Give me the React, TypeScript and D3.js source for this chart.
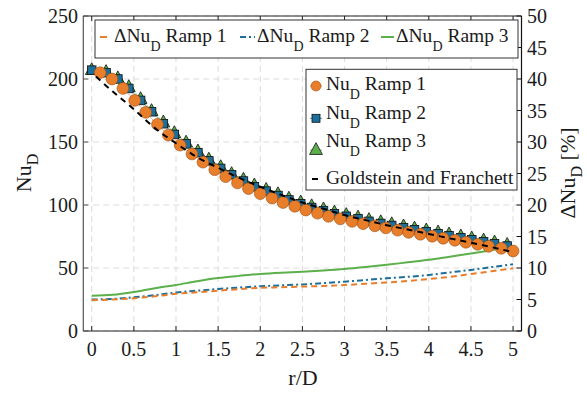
import React from "react";
import * as d3 from "d3";

// ---------- data ----------
const rCircles = [0.1, 0.24, 0.37, 0.51, 0.64, 0.78, 0.91, 1.05, 1.19, 1.32, 1.46, 1.59, 1.73, 1.86, 2.0, 2.14, 2.27, 2.41, 2.54, 2.68, 2.81, 2.95, 3.09, 3.22, 3.36, 3.49, 3.63, 3.76, 3.9, 4.04, 4.17, 4.31, 4.44, 4.58, 4.71, 4.86, 5.0];
const nuRamp1 = [205, 200, 192.5, 183, 173.5, 164, 155.5, 147.5, 140.5, 134, 128, 122.5, 117.5, 113, 109, 105.5, 102, 99, 96, 93.5, 91, 89, 87, 85.2, 83.5, 81.8, 80, 78.3, 76.8, 75.2, 73.6, 72, 70.4, 68.8, 67.2, 65.6, 63.5];

const rOthers = [0, 0.17, 0.31, 0.44, 0.58, 0.71, 0.85, 0.98, 1.12, 1.26, 1.39, 1.53, 1.66, 1.8, 1.93, 2.07, 2.21, 2.34, 2.48, 2.61, 2.75, 2.88, 3.02, 3.16, 3.29, 3.43, 3.56, 3.7, 3.83, 3.97, 4.11, 4.24, 4.38, 4.51, 4.65, 4.78, 4.93];
const nuRamp2 = [207, 205, 200, 192.5, 183, 174, 164.5, 156, 148.5, 141.5, 135, 129, 124, 119, 114.5, 111, 107.5, 104, 101, 98, 95.5, 93, 91, 89, 87, 85.3, 83.7, 82, 80.3, 78.8, 77.2, 75.6, 74, 72.4, 70.8, 69.2, 67.4];
const nuRamp3 = [207.5, 206, 201, 194, 184.5, 175, 166, 157.5, 150, 143, 136.5, 130.5, 125, 120.5, 116, 112.5, 109, 105.5, 102.5, 99.5, 97, 94.5, 92.5, 90.5, 88.5, 86.8, 85.2, 83.5, 81.8, 80.3, 78.7, 77.1, 75.5, 73.9, 72.3, 70.7, 68.8];

const rGold = [0.05, 0.25, 0.5, 0.75, 1.0, 1.25, 1.5, 1.75, 2.0, 2.25, 2.5, 2.75, 3.0, 3.25, 3.5, 3.75, 4.0, 4.25, 4.5, 4.75, 5.0];
const nuGold = [202, 190, 176, 161, 149, 138, 129.5, 121.5, 114.5, 108, 102, 97, 92, 88, 84, 80.5, 77, 73.5, 70, 66.5, 62.5];

const rDelta = [0, 0.25, 0.5, 0.75, 1.0, 1.25, 1.5, 1.75, 2.0, 2.25, 2.5, 2.75, 3.0, 3.25, 3.5, 3.75, 4.0, 4.25, 4.5, 4.75, 5.0];
const dRamp1 = [4.9, 5.0, 5.2, 5.5, 5.9, 6.15, 6.4, 6.65, 6.85, 6.95, 7.05, 7.15, 7.3, 7.5, 7.7, 7.95, 8.25, 8.6, 9.05, 9.5, 9.95];
const dRamp2 = [5.0, 5.1, 5.35, 5.7, 6.1, 6.4, 6.67, 6.9, 7.1, 7.25, 7.4, 7.6, 7.83, 8.1, 8.37, 8.6, 8.9, 9.3, 9.7, 10.15, 10.6];
const dRamp3 = [5.6, 5.75, 6.2, 6.8, 7.3, 7.9, 8.4, 8.75, 9.05, 9.25, 9.4, 9.6, 9.84, 10.15, 10.5, 10.9, 11.3, 11.8, 12.3, 12.85, 13.4];

const xTicks = [0, 0.5, 1, 1.5, 2, 2.5, 3, 3.5, 4, 4.5, 5];
const yLTicks = [0, 50, 100, 150, 200, 250];
const yRTicks = [0, 5, 10, 15, 20, 25, 30, 35, 40, 45, 50];

const C_OR = "#e87d2a";
const C_BL = "#1d6f9b";
const C_GR = "#5bb04c";

const FONT = '"Liberation Serif", "Times New Roman", Times, "DejaVu Serif", serif';

export default function App() {
  const W = 587, H = 393;
  const L = 83.3, R = 521.5, T = 16, B = 331;
  const x = d3.scaleLinear().domain([-0.1, 5.1]).range([L, R]);
  const yL = d3.scaleLinear().domain([0, 250]).range([B, T]);
  const yR = d3.scaleLinear().domain([0, 50]).range([B, T]);

  const lineL = d3.line<[number, number]>().x(d => x(d[0])).y(d => yL(d[1])).curve(d3.curveMonotoneX);
  const lineR = d3.line<[number, number]>().x(d => x(d[0])).y(d => yR(d[1])).curve(d3.curveMonotoneX);

  const zip = (a: number[], b: number[]) => a.map((v, i) => [v, b[i]] as [number, number]);

  const tri = (cx: number, cy: number, s: number) =>
    `M${cx},${cy - s * 0.62}L${cx + s * 0.58},${cy + s * 0.45}L${cx - s * 0.58},${cy + s * 0.45}Z`;

  const tick = 5;
  const txt = "#1a1a1a";
  const ts: React.CSSProperties = { fontFamily: FONT, whiteSpace: "pre" };

  return (
    <svg width={W} height={H} style={{ position: "absolute", left: 0, top: 0, background: "#fff", fontFamily: FONT }}>
      <rect x={0} y={0} width={W} height={H} fill="#fff" />
      {/* grid */}
      {xTicks.map(t => (
        <line key={"gx" + t} x1={x(t)} x2={x(t)} y1={T} y2={B} stroke="#dcdcdc" strokeWidth={1} strokeDasharray="6,4" />
      ))}
      {yLTicks.map(t => (
        <line key={"gy" + t} x1={L} x2={R} y1={yL(t)} y2={yL(t)} stroke="#dcdcdc" strokeWidth={1} strokeDasharray="6,4" />
      ))}

      {/* delta lines (right axis) */}
      <path d={lineR(zip(rDelta, dRamp3)) || ""} fill="none" stroke={C_GR} strokeWidth={2} />
      <path d={lineR(zip(rDelta, dRamp2)) || ""} fill="none" stroke={C_BL} strokeWidth={2} strokeDasharray="6,3,2,3" />
      <path d={lineR(zip(rDelta, dRamp1)) || ""} fill="none" stroke={C_OR} strokeWidth={2} strokeDasharray="6,4" />

      {/* Nu series */}
      <path d={lineL(zip(rOthers, nuRamp3)) || ""} fill="none" stroke={C_GR} strokeWidth={0.6} />
      {rOthers.map((r, i) => (
        <path key={"t" + i} d={tri(x(r), yL(nuRamp3[i]), 11)} fill={C_GR} stroke="#111" strokeWidth={0.8} />
      ))}
      <path d={lineL(zip(rOthers, nuRamp2)) || ""} fill="none" stroke={C_BL} strokeWidth={0.6} />
      {rOthers.map((r, i) => (
        <rect key={"s" + i} x={x(r) - 4.3} y={yL(nuRamp2[i]) - 4.3} width={8.6} height={8.6} fill={C_BL} stroke="#111" strokeWidth={0.8} />
      ))}
      <path d={lineL(zip(rCircles, nuRamp1)) || ""} fill="none" stroke={C_OR} strokeWidth={0.6} />
      {rCircles.map((r, i) => (
        <circle key={"c" + i} cx={x(r)} cy={yL(nuRamp1[i])} r={5.9} fill={C_OR} stroke="#9a4d14" strokeWidth={0.6} />
      ))}
      <path d={lineL(zip(rGold, nuGold)) || ""} fill="none" stroke="#000" strokeWidth={2} strokeDasharray="6,5" />

      {/* axes box */}
      <line x1={L} x2={L} y1={T} y2={B} stroke="#555" strokeWidth={1.2} />
      <line x1={L} x2={R} y1={B} y2={B} stroke="#222" strokeWidth={1} />
      <line x1={L} x2={R} y1={T} y2={T} stroke="#222" strokeWidth={1} />
      <line x1={R} x2={R} y1={T} y2={B} stroke="#111" strokeWidth={1.2} />

      {xTicks.map(t => (
        <g key={"xt" + t}>
          <line x1={x(t)} x2={x(t)} y1={B} y2={B - tick} stroke="#222" />
          <line x1={x(t)} x2={x(t)} y1={T} y2={T + tick} stroke="#222" />
          <text x={x(t)} y={356} fontSize={20} textAnchor="middle" fill={txt} style={ts}>{t}</text>
        </g>
      ))}
      {yLTicks.map(t => (
        <g key={"yl" + t}>
          <line x1={L} x2={L + tick} y1={yL(t)} y2={yL(t)} stroke="#555" />
          <text x={78} y={yL(t) + 7} fontSize={20} textAnchor="end" fill={txt} style={ts}>{t}</text>
        </g>
      ))}
      {yRTicks.map(t => (
        <g key={"yr" + t}>
          <line x1={R} x2={R - tick} y1={yR(t)} y2={yR(t)} stroke="#111" />
          <text x={527} y={yR(t) + 7} fontSize={20} textAnchor="start" fill={txt} style={ts}>{t}</text>
        </g>
      ))}

      {/* axis labels */}
      <text x={303} y={385} fontSize={22} textAnchor="middle" fill={txt} style={ts}>r/D</text>
      <text transform="translate(31,173) rotate(-90)" fontSize={22} textAnchor="middle" fill={txt} style={ts}>
        <tspan>Nu</tspan><tspan dy={7} fontSize={16}>D</tspan>
      </text>
      <text transform="translate(575,173) rotate(-90)" fontSize={22} textAnchor="middle" fill={txt} style={ts}>
        <tspan>ΔNu</tspan><tspan dy={7} fontSize={16}>D</tspan><tspan dy={-7}> [%]</tspan>
      </text>

      {/* top legend */}
      <rect x={95} y={20} width={423} height={38} fill="#fff" stroke="#333" strokeWidth={1} />
      <line x1={100} x2={107} y1={37} y2={37} stroke={C_OR} strokeWidth={2} />
      <text x={114} y={41.7} fontSize={19.5} fill={txt} style={ts}>
        <tspan>ΔNu</tspan><tspan dy={9} fontSize={14}>D</tspan><tspan dy={-9}> Ramp 1</tspan>
      </text>
      <line x1={240} x2={255} y1={37} y2={37} stroke={C_BL} strokeWidth={2} strokeDasharray="6,3,2,3" />
      <text x={257} y={41.7} fontSize={19.5} fill={txt} style={ts}>
        <tspan>ΔNu</tspan><tspan dy={9} fontSize={14}>D</tspan><tspan dy={-9}> Ramp 2</tspan>
      </text>
      <line x1={381} x2={394} y1={37} y2={37} stroke={C_GR} strokeWidth={2} />
      <text x={396} y={41.7} fontSize={19.5} fill={txt} style={ts}>
        <tspan>ΔNu</tspan><tspan dy={9} fontSize={14}>D</tspan><tspan dy={-9}> Ramp 3</tspan>
      </text>

      {/* second legend */}
      <rect x={306} y={69.3} width={211} height={120.7} fill="#fff" stroke="#333" strokeWidth={1} />
      <line x1={310} x2={322} y1={86} y2={86} stroke={C_OR} strokeWidth={0.8} />
      <circle cx={316} cy={86} r={5} fill={C_OR} stroke="#9a4d14" strokeWidth={0.6} />
      <text x={326} y={90} fontSize={19.5} fill={txt} style={ts}>
        <tspan>Nu</tspan><tspan dy={9} fontSize={14}>D</tspan><tspan dy={-9}> Ramp 1</tspan>
      </text>
      <line x1={310} x2={322} y1={118.3} y2={118.3} stroke={C_BL} strokeWidth={0.8} />
      <rect x={312} y={114.3} width={8} height={8} fill={C_BL} stroke="#111" strokeWidth={0.8} />
      <text x={326} y={119} fontSize={19.5} fill={txt} style={ts}>
        <tspan>Nu</tspan><tspan dy={9} fontSize={14}>D</tspan><tspan dy={-9}> Ramp 2</tspan>
      </text>
      <line x1={310} x2={322} y1={150} y2={150} stroke={C_GR} strokeWidth={0.8} />
      <path d={tri(316, 149.5, 11)} fill={C_GR} stroke="#111" strokeWidth={0.8} />
      <text x={326} y={147} fontSize={19.5} fill={txt} style={ts}>
        <tspan>Nu</tspan><tspan dy={9} fontSize={14}>D</tspan><tspan dy={-9}> Ramp 3</tspan>
      </text>
      <line x1={312} x2={318} y1={179} y2={179} stroke="#000" strokeWidth={2} />
      <text x={326} y={184} fontSize={19.5} fill={txt} style={ts}>Goldstein and Franchett</text>
    </svg>
  );
}
